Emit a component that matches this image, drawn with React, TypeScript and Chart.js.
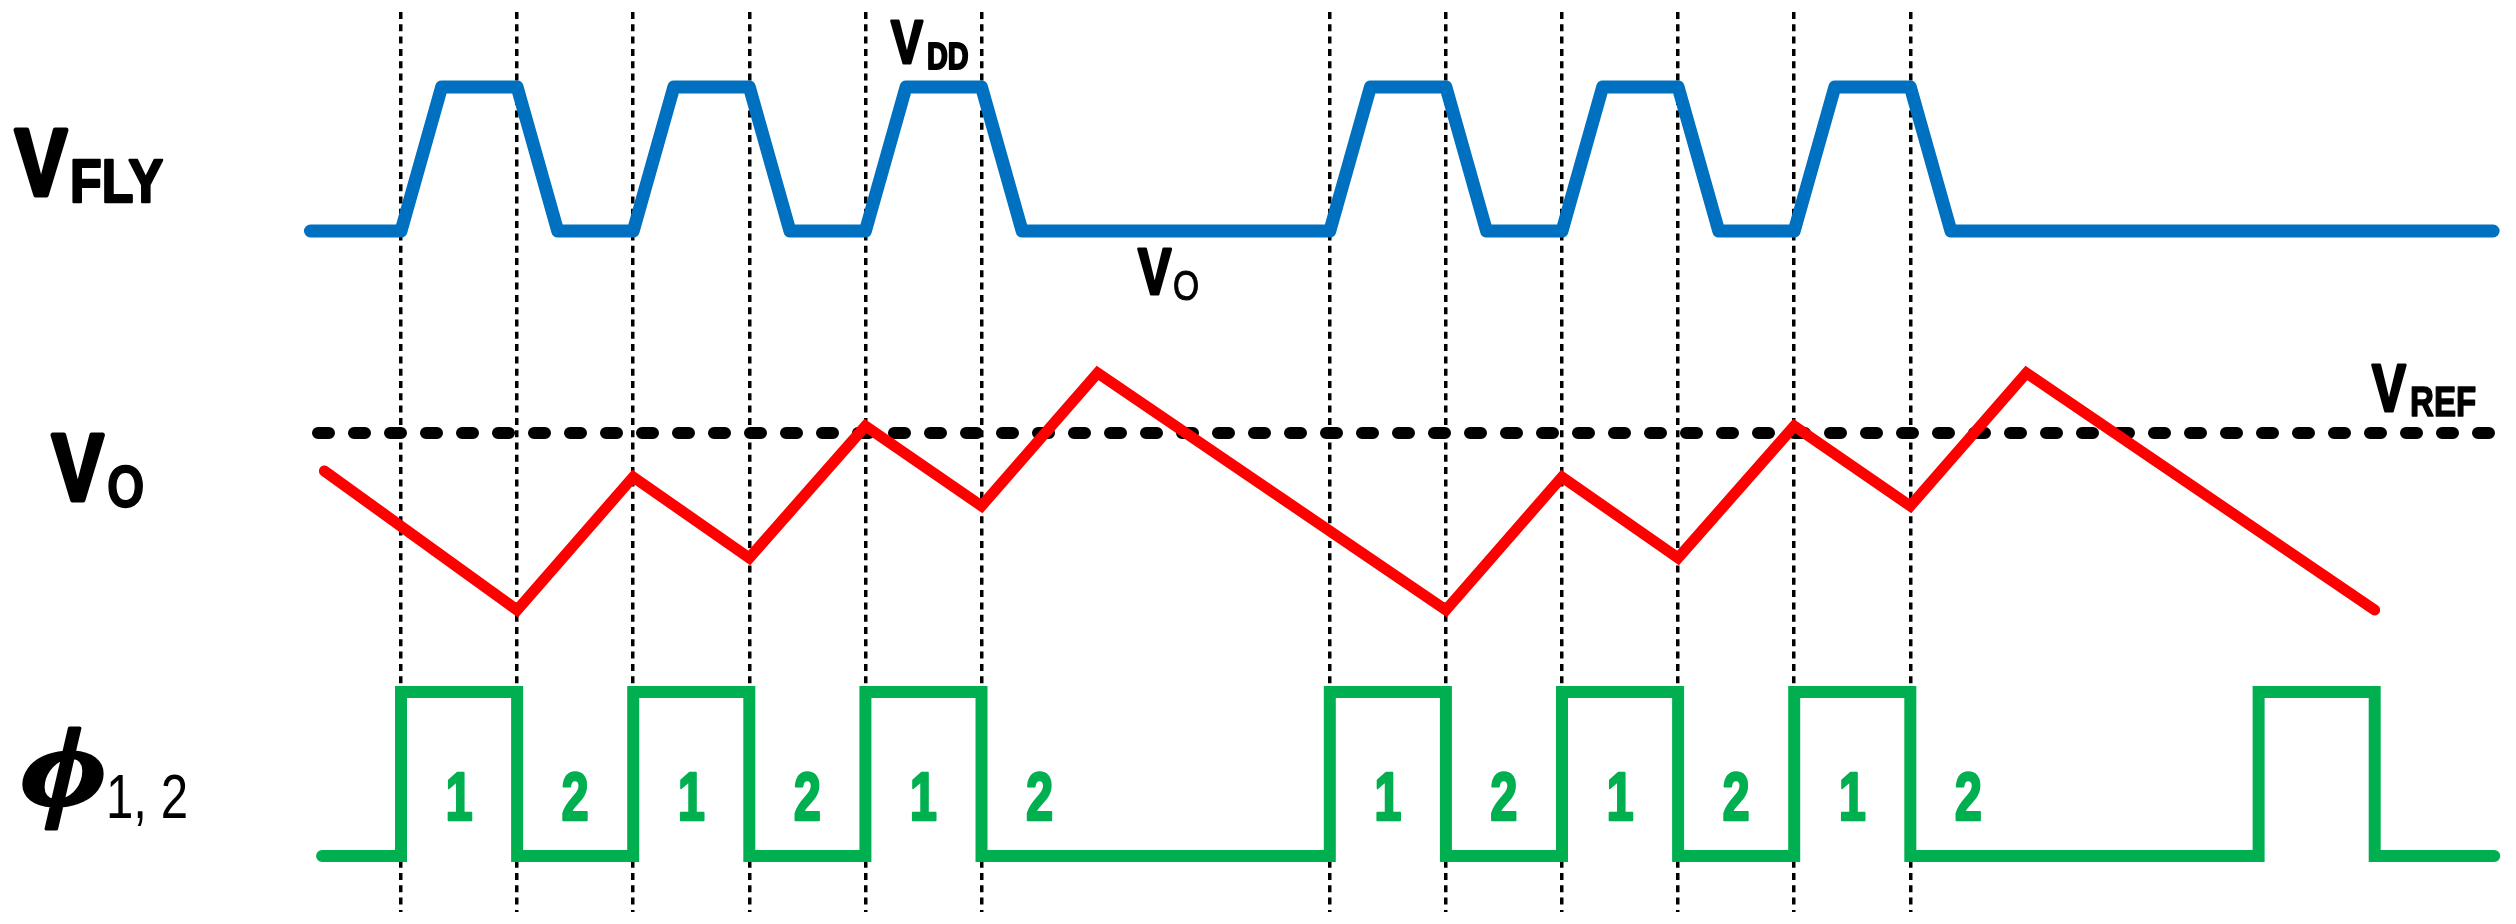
import React, { useEffect, useRef } from 'react';
import { Chart, registerables } from 'chart.js';

Chart.register(...registerables);

// time axis unit = one switching phase
const gridTimes = [0, 1, 2, 3, 4, 5, 8, 9, 10, 11, 12, 13];

// V_FLY : 0 = V_O level, 1 = V_DD level
const vflyTimes = [-0.78, 0, 0.35, 1, 1.35, 2, 2.35, 3, 3.35, 4, 4.35, 5, 5.35, 8, 8.35, 9, 9.35, 10, 10.35, 11, 11.35, 12, 12.35, 13, 13.35, 18.02];
const vflyLevels = [0, 0, 1, 1, 0, 0, 1, 1, 0, 0, 1, 1, 0, 0, 1, 1, 0, 0, 1, 1, 0, 0, 1, 1, 0, 0];

// V_O relative to V_REF (arbitrary units)
const voTimes = [-0.66, 1, 2, 3, 4, 5, 6, 9, 10, 11, 12, 13, 14, 17];
const voValues = [-0.76, -3.54, -0.88, -2.5, 0.14, -1.46, 1.2, -3.54, -0.88, -2.5, 0.14, -1.46, 1.2, -3.54];

// V_REF dashed level
const vrefTimes = [-0.715, 18.04];
const vrefValues = [0, 0];

// phase clock (stepped)
const phiTimes = [-0.68, 0, 1, 2, 3, 4, 5, 8, 9, 10, 11, 12, 13, 16, 17, 18.03];
const phiLevels = [0, 1, 0, 1, 0, 1, 0, 1, 0, 1, 0, 1, 0, 1, 0, 0];

// phase numbers
const phaseLabelTimes = [0.5, 1.5, 2.5, 3.5, 4.5, 5.5, 8.5, 9.5, 10.5, 11.5, 12.5, 13.5];
const phaseLabels = ['1', '2', '1', '2', '1', '2', '1', '2', '1', '2', '1', '2'];
const phaseLabelLevel = 0.22;

const toXY = (xs: number[], ys: number[]) => xs.map((x, i) => ({ x, y: ys[i] }));

function drawText(
  ctx: CanvasRenderingContext2D,
  text: string,
  x: number,
  baseline: number,
  font: string,
  sx: number,
  thick = 0,
  color = '#000',
  align: 'left' | 'center' = 'left'
) {
  ctx.save();
  ctx.font = font;
  ctx.fillStyle = color;
  ctx.strokeStyle = color;
  ctx.textBaseline = 'alphabetic';
  ctx.translate(x, baseline);
  ctx.scale(sx, 1);
  let dx = 0;
  if (align === 'center') dx = -ctx.measureText(text).width / 2;
  ctx.fillText(text, dx, 0);
  if (thick > 0) {
    ctx.lineWidth = thick;
    ctx.lineJoin = 'round';
    ctx.strokeText(text, dx, 0);
  }
  ctx.restore();
}

const SANS = '"Liberation Sans", Arial, sans-serif';
const SERIF = '"Liberation Serif", "DejaVu Serif", serif';

const labelsPlugin = {
  id: 'timingLabels',
  afterDraw(chart: any) {
    const ctx: CanvasRenderingContext2D = chart.ctx;
    const xs = chart.scales.x;
    const yPhi = chart.scales.yPhi;
    // left signal names
    drawText(ctx, 'V', 15, 195, `bold 95px ${SANS}`, 0.82, 5);
    drawText(ctx, 'FLY', 70, 202, `bold 61px ${SANS}`, 0.85, 2.5);
    drawText(ctx, 'V', 52, 500, `bold 94px ${SANS}`, 0.82, 5);
    drawText(ctx, 'O', 107, 507, `bold 60px ${SANS}`, 0.8, 1.5);
    drawText(ctx, '\u03D5', 22, 805, `italic bold 112px ${SERIF}`, 1.3, 3);
    drawText(ctx, '1, 2', 106, 818, `63px ${SANS}`, 0.78);
    // in-plot annotations
    drawText(ctx, 'V', 891, 63, `bold 62px ${SANS}`, 0.77, 3);
    drawText(ctx, 'DD', 927, 69, `bold 36px ${SANS}`, 0.8, 2);
    drawText(ctx, 'V', 1138, 294, `bold 64px ${SANS}`, 0.78, 3);
    drawText(ctx, 'O', 1173, 300, `42px ${SANS}`, 0.8, 1);
    drawText(ctx, 'V', 2372, 411, `bold 66px ${SANS}`, 0.77, 3);
    drawText(ctx, 'REF', 2410, 416, `bold 43px ${SANS}`, 0.77, 1.5);
    // phase numbers
    phaseLabelTimes.forEach((t, i) => {
      drawText(
        ctx,
        phaseLabels[i],
        xs.getPixelForValue(t),
        yPhi.getPixelForValue(phaseLabelLevel),
        `bold 68px ${SANS}`,
        0.72,
        2.5,
        '#00B050',
        'center'
      );
    });
  },
};

export default function App() {
  const canvasRef = useRef<HTMLCanvasElement | null>(null);

  useEffect(() => {
    document.body.style.margin = '0';
    const canvas = canvasRef.current;
    if (!canvas) return;
    const chart = new Chart(canvas, {
      type: 'line',
      data: {
        datasets: [
          {
            label: 'VO',
            data: toXY(voTimes, voValues),
            yAxisID: 'yVo',
            borderColor: '#FF0000',
            borderWidth: 11,
            borderJoinStyle: 'miter',
            borderCapStyle: 'round',
            pointRadius: 0,
            tension: 0,
            clip: false,
          },
          {
            label: 'VREF',
            data: toXY(vrefTimes, vrefValues),
            yAxisID: 'yVo',
            borderColor: '#000000',
            borderWidth: 12,
            borderDash: [11, 25],
            borderCapStyle: 'round',
            pointRadius: 0,
            clip: false,
          },
          {
            label: 'VFLY',
            data: toXY(vflyTimes, vflyLevels),
            yAxisID: 'yFly',
            borderColor: '#0070C0',
            borderWidth: 13,
            borderJoinStyle: 'round',
            borderCapStyle: 'round',
            pointRadius: 0,
            tension: 0,
            clip: false,
          },
          {
            label: 'PHI',
            data: toXY(phiTimes, phiLevels),
            yAxisID: 'yPhi',
            borderColor: '#00B050',
            borderWidth: 12,
            stepped: true,
            borderJoinStyle: 'miter',
            borderCapStyle: 'round',
            pointRadius: 0,
            clip: false,
          },
        ],
      },
      options: {
        animation: false,
        responsive: false,
        maintainAspectRatio: false,
        events: [],
        layout: { padding: { top: 12, bottom: 12, left: 0, right: 0 } },
        plugins: { legend: { display: false }, tooltip: { enabled: false }, title: { display: false } },
        scales: {
          x: {
            type: 'linear',
            position: 'bottom',
            min: -3.454,
            max: 18.217,
            z: 1,
            afterBuildTicks: (scale: any) => {
              scale.ticks = gridTimes.map((v) => ({ value: v }));
            },
            ticks: { display: false },
            grid: { display: true, color: '#000000', lineWidth: 3.5, drawTicks: false, drawOnChartArea: true },
            border: { display: false, dash: [7, 5.3] },
          },
          yFly: { type: 'linear', display: false, min: -4.729, max: 1.521 },
          yVo: { type: 'linear', display: false, min: -9.58, max: 8.42 },
          yPhi: { type: 'linear', display: false, min: -0.342, max: 5.146 },
        },
      },
      plugins: [labelsPlugin],
    } as any);
    return () => chart.destroy();
  }, []);

  return (
    <div style={{ position: 'absolute', left: 0, top: 0, width: 2516, height: 924, background: '#fff' }}>
      <canvas ref={canvasRef} width={2516} height={924} style={{ display: 'block', width: 2516, height: 924 }} />
    </div>
  );
}
